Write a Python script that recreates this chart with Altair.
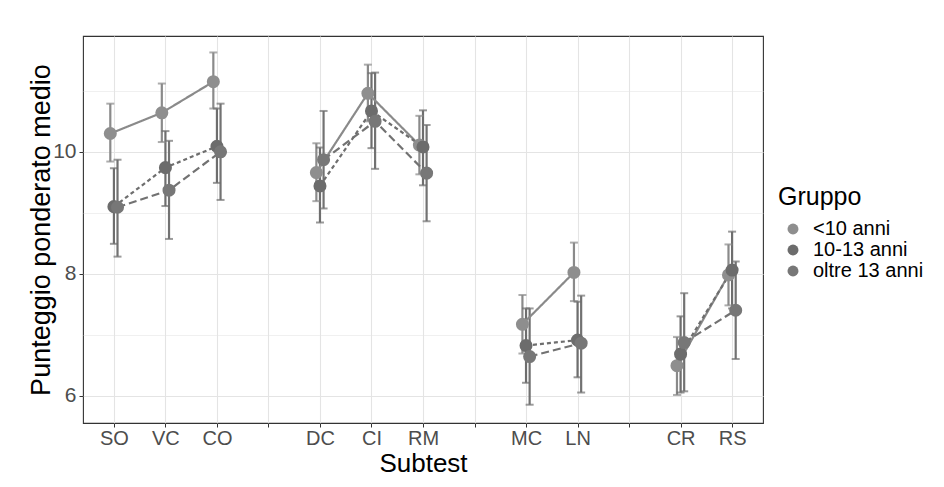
import json
import altair as alt
import pandas as pd

# Axis positions (blank entries are spacer positions between blocks)
positions = ["SO", "VC", "CO", "", "DC", "CI", "RM", "", "MC", "LN", "", "CR", "RS"]
subtests = ["SO", "VC", "CO", "DC", "CI", "RM", "MC", "LN", "CR", "RS"]
blocks = [1, 1, 1, 2, 2, 2, 3, 3, 4, 4]
groups = ["<10 anni", "10-13 anni", "oltre 13 anni"]
series_keys = ["s1", "s2", "s3"]

mean_lt10 = [10.30, 10.64, 11.15, 9.66, 10.96, 10.11, 7.17, 8.02, 6.49, 7.98]
lo_lt10 = [9.84, 10.16, 10.71, 9.19, 10.50, 9.63, 6.69, 7.55, 6.01, 7.48]
hi_lt10 = [10.79, 11.12, 11.63, 10.14, 11.43, 10.59, 7.65, 8.51, 6.96, 8.48]

mean_1013 = [9.10, 9.74, 10.09, 9.44, 10.67, 10.08, 6.82, 6.91, 6.68, 8.06]
lo_1013 = [8.49, 9.11, 9.49, 8.84, 10.06, 9.45, 6.21, 6.30, 6.05, 7.43]
hi_1013 = [9.73, 10.34, 10.71, 10.07, 11.29, 10.68, 7.43, 7.54, 7.30, 8.69]

mean_o13 = [9.09, 9.37, 10.00, 9.87, 10.50, 9.65, 6.64, 6.86, 6.87, 7.40]
lo_o13 = [8.28, 8.57, 9.21, 9.07, 9.72, 8.86, 5.85, 6.05, 6.07, 6.60]
hi_o13 = [9.87, 10.18, 10.79, 10.67, 11.30, 10.44, 7.43, 7.64, 7.68, 8.20]

point_colors = ["#8e8e8e", "#6c6c6c", "#777777"]
bar_colors = ["#8a8a8a", "#6e6e6e", "#727272"]

series = [(mean_lt10, lo_lt10, hi_lt10), (mean_1013, lo_1013, hi_1013), (mean_o13, lo_o13, hi_o13)]
rows = []
for gi, (g, (m, lo, hi)) in enumerate(zip(groups, series)):
    for s, b, mv, l, h in zip(subtests, blocks, m, lo, hi):
        rows.append(dict(subtest=s, block=b, gruppo=g, serie=series_keys[gi], gidx=gi,
                         mean=mv, lo=l, hi=h, pos=positions.index(s)))
df = pd.DataFrame(rows)

FONT = "Liberation Sans"
label_expr = json.dumps(positions) + "[datum.value]"
GRID = "#e4e4e4"

x_enc = alt.X("xpos:Q",
              scale=alt.Scale(domain=[-0.6, 12.6], nice=False, zero=False),
              axis=alt.Axis(values=list(range(len(positions))), labelExpr=label_expr,
                            title="Subtest", grid=True, gridColor=GRID, gridWidth=1.1,
                            domain=False, tickColor="#333333", tickSize=4, labelPadding=1,
                            labelFontSize=20, labelColor="#4d4d4d", titleFontSize=26,
                            titleFontWeight="normal", titleColor="#000000", titlePadding=2,
                            labelFont=FONT, titleFont=FONT))

y_axis = alt.Axis(values=[6, 7, 8, 9, 10, 11],
                  labelExpr="datum.value % 2 === 0 ? '' + datum.value : ''",
                  title="Punteggio ponderato medio", grid=True, gridColor=GRID,
                  gridWidth={"condition": {"test": "datum.value % 2 === 0", "value": 1.1}, "value": 0.55},
                  tickOpacity={"condition": {"test": "datum.value % 2 === 0", "value": 1}, "value": 0},
                  domain=False, tickColor="#333333", tickSize=4, labelPadding=3,
                  labelFontSize=21, labelColor="#4d4d4d", titleFontSize=27,
                  titleFontWeight="normal", titleColor="#000000", titlePadding=-3,
                  labelFont=FONT, titleFont=FONT)
y_scale = alt.Scale(domain=[5.55, 11.9], nice=False, zero=False)

bar_scale = alt.Scale(domain=series_keys, range=bar_colors)
base = alt.Chart(df).transform_calculate(xpos="datum.pos + (datum.gidx - 1) * 0.07")

bars = base.mark_rule(strokeWidth=2.2).encode(
    x=x_enc,
    y=alt.Y("lo:Q", scale=y_scale, axis=y_axis),
    y2="hi:Q",
    stroke=alt.Stroke("serie:N", scale=bar_scale, legend=None),
)
caps_lo = base.mark_tick(orient="horizontal", size=8, thickness=2).encode(
    x="xpos:Q", y="lo:Q",
    fill=alt.Fill("serie:N", scale=bar_scale, legend=None),
)
caps_hi = base.mark_tick(orient="horizontal", size=8, thickness=2).encode(
    x="xpos:Q", y="hi:Q",
    fill=alt.Fill("serie:N", scale=bar_scale, legend=None),
)
lines = base.mark_line(strokeWidth=2.2).encode(
    x="xpos:Q", y="mean:Q",
    stroke=alt.Stroke("serie:N", scale=bar_scale, legend=None),
    strokeDash=alt.StrokeDash("serie:N", scale=alt.Scale(domain=series_keys, range=[[1, 0], [4, 3], [8, 4]]),
                              legend=None),
    detail="block:N",
)
points = base.mark_circle(size=170, opacity=1).encode(
    x="xpos:Q", y="mean:Q",
    color=alt.Color("gruppo:N", scale=alt.Scale(domain=groups, range=point_colors),
                    legend=alt.Legend(title="Gruppo", orient="none", legendX=695, legendY=149,
                                      symbolType="circle", symbolSize=120, symbolOffset=5,
                                      titleFontSize=25,
                                      titleFontWeight="normal", titleColor="#000000", titlePadding=9,
                                      labelFontSize=20, labelColor="#000000", rowPadding=1,
                                      labelOffset=10, titleFont=FONT, labelFont=FONT)),
)

chart = alt.layer(bars, caps_lo, caps_hi, lines, points).properties(
    width=680, height=387,
    background="white",
    autosize=alt.AutoSizeParams(type="none"),
    padding={"left": 75, "top": 28, "right": 165, "bottom": 62},
).configure_view(stroke="#333333", strokeWidth=1.1)

chart.save("out.html", embed_options={"renderer": "svg", "actions": False})
